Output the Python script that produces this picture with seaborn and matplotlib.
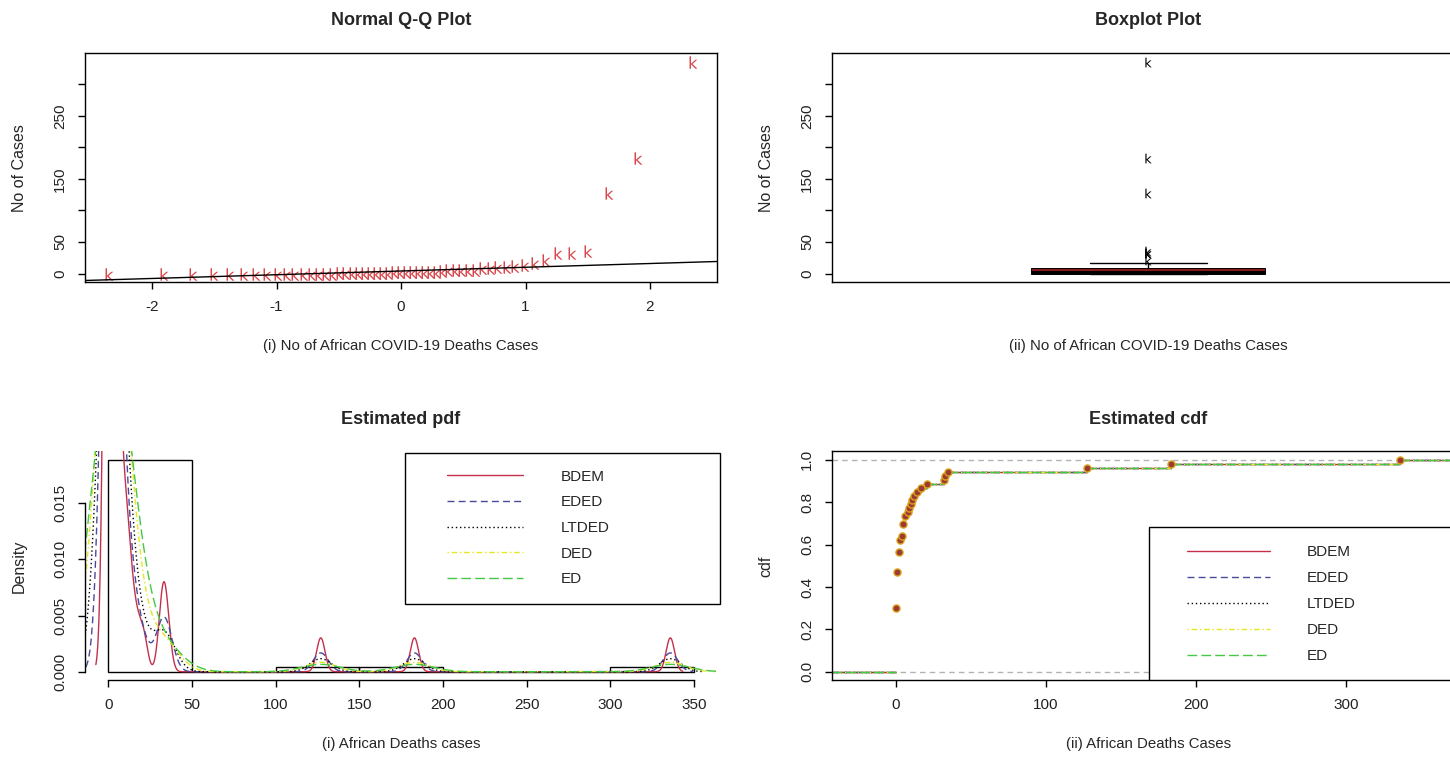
import statistics
import numpy as np
import pandas as pd
import seaborn as sns
import matplotlib.pyplot as plt
from matplotlib.patches import Rectangle
from matplotlib.lines import Line2D

death_values = [0, 1, 2, 3, 4, 5, 6, 8, 9, 10, 11, 12, 14, 17, 21, 32, 33, 35, 127, 183, 336]
death_counts = [16, 9, 5, 3, 1, 3, 2, 1, 1, 1, 1, 1, 1, 1, 1, 1, 1, 1, 1, 1, 1]

estimators = ["BDEM", "EDED", "LTDED", "DED", "ED"]
est_colors = ["#C4304A", "#4A4A9A", "black", "#E6E620", "#45C845"]
est_styles = ["-", (0, (5, 3)), (0, (1, 2)), (0, (1, 2, 4, 2)), (0, (7, 3))]
est_bandwidths = [2.5, 4.5, 6.5, 9.0, 11.5]

hist_breaks = [0, 50, 100, 150, 200, 250, 300, 350]

deaths = np.repeat(death_values, death_counts)
n = len(deaths)
y_sorted = np.sort(deaths)
nd = statistics.NormalDist()
theo = np.array([nd.inv_cdf((i - 0.5) / n) for i in range(1, n + 1)])
df = pd.DataFrame({"theo": theo, "cases": y_sorted})

sns.set_theme(style="white", rc={
    "axes.edgecolor": "black", "axes.linewidth": 1.0,
    "xtick.bottom": True, "ytick.left": True,
    "xtick.major.size": 5, "ytick.major.size": 5,
    "xtick.major.width": 1.0, "ytick.major.width": 1.0,
    "xtick.color": "black", "ytick.color": "black",
    "xtick.labelcolor": "#222222", "ytick.labelcolor": "#222222",
    "xtick.major.pad": 8, "ytick.major.pad": 8,
})
plt.rcParams["font.family"] = ["Liberation Sans", "DejaVu Sans"]

fig = plt.figure(figsize=(14.5, 7.6), dpi=100)
W = 0.436
H = 0.301
ax_qq = fig.add_axes([0.0586, 0.629, W, H])
ax_box = fig.add_axes([0.5738, 0.629, W, H])
ax_pdf = fig.add_axes([0.0586, 0.105, W, H])
ax_cdf = fig.add_axes([0.5738, 0.105, W, H])

red_k = "#D9474C"
kmark = r"$\mathrm{k}$"

# Normal Q-Q plot
sns.scatterplot(data=df, x="theo", y="cases", marker=kmark, s=80, color=red_k,
                linewidth=0, ax=ax_qq)
q1, q3 = np.percentile(deaths, [25, 75])
z1, z3 = nd.inv_cdf(0.25), nd.inv_cdf(0.75)
ax_qq.axline((z1, q1), slope=(q3 - q1) / (z3 - z1), color="black", lw=1)
ax_qq.set_xlim(-2.54, 2.54)
ax_qq.set_ylim(-13.4, 349.4)
ax_qq.set_xticks([-2, -1, 0, 1, 2])
ax_qq.set_xticklabels(["-2", "-1", "0", "1", "2"])

# Boxplot
sns.boxplot(y=deaths, ax=ax_box, width=0.37, color="#8B1A1A", saturation=1,
            linecolor="black", linewidth=0.7,
            medianprops=dict(color="black", linewidth=2.2),
            whiskerprops=dict(linestyle=(0, (4, 3)), color="black", linewidth=1),
            capprops=dict(color="black", linewidth=1),
            flierprops=dict(marker=kmark, markersize=7, markerfacecolor="black",
                            markeredgecolor="black", markeredgewidth=0))
ax_box.set_xlim(-0.5, 0.5)
ax_box.set_ylim(-13.4, 349.4)
ax_box.set_xticks([])

for ax in (ax_qq, ax_box):
    ax.set_yticks([0, 50, 100, 150, 200, 250, 300])
    ax.set_yticklabels(["0", "50", "", "150", "", "250", ""])
    ax.set_ylabel("No of Cases", fontsize=11.5)

ax_qq.set_title("Normal Q-Q Plot", fontsize=13, fontweight="bold", pad=20)
ax_box.set_title("Boxplot Plot", fontsize=13, fontweight="bold", pad=20)
ax_qq.set_xlabel("(i) No of African COVID-19 Deaths Cases", fontsize=10.8)
ax_box.set_xlabel("(ii) No of African COVID-19 Deaths Cases", fontsize=10.8)

# Estimated pdf
sns.histplot(x=deaths, bins=hist_breaks, stat="density", fill=False, element="bars",
             color="black", linewidth=1, ax=ax_pdf)
sd = np.std(deaths, ddof=1)
for name, col, ls, h in zip(estimators, est_colors, est_styles, est_bandwidths):
    sns.kdeplot(x=deaths, bw_method=h / sd, color=col, linestyle=ls, lw=1,
                gridsize=3000, cut=3, ax=ax_pdf)
ax_pdf.set_xlim(-14, 364)
ax_pdf.set_ylim(-0.000755, 0.0196)
ax_pdf.set_xticks(hist_breaks)
ax_pdf.set_yticks([0, 0.005, 0.010, 0.015])
ax_pdf.set_yticklabels(["0.000", "0.005", "0.010", "0.015"])
ax_pdf.spines["top"].set_visible(False)
ax_pdf.spines["right"].set_visible(False)
ax_pdf.spines["left"].set_bounds(0, 0.015)
ax_pdf.spines["bottom"].set_bounds(0, 350)
ax_pdf.set_ylabel("Density", fontsize=11.5)
ax_pdf.set_xlabel("(i) African Deaths cases", fontsize=10.8)
ax_pdf.set_title("Estimated pdf", fontsize=13, fontweight="bold", pad=20)

# Estimated cdf
xmin, xmax = -42.5, 378.5
knots = np.unique(deaths)
F = np.searchsorted(y_sorted, knots, side="right") / n
seg_x0 = np.concatenate([[xmin], knots])
seg_x1 = np.concatenate([knots, [xmax]])
seg_y = np.concatenate([[0.0], F])
ax_cdf.axhline(0, color="#B3B3B3", lw=1, linestyle=(0, (4, 3)))
ax_cdf.axhline(1, color="#B3B3B3", lw=1, linestyle=(0, (4, 3)))
for name, col, ls in zip(estimators, est_colors, est_styles):
    ax_cdf.hlines(seg_y, seg_x0, seg_x1, colors=col, linestyles=[ls], lw=1)
sns.scatterplot(x=knots, y=F, s=26, color="#9C3A34", edgecolor="#D9A21B",
                linewidth=1, zorder=5, ax=ax_cdf)
ax_cdf.set_xlim(xmin, xmax)
ax_cdf.set_ylim(-0.04, 1.04)
ax_cdf.set_xticks([0, 100, 200, 300])
ax_cdf.set_yticks([0, 0.2, 0.4, 0.6, 0.8, 1.0])
ax_cdf.set_yticklabels(["0.0", "0.2", "0.4", "0.6", "0.8", "1.0"])
ax_cdf.set_ylabel("cdf", fontsize=11.5)
ax_cdf.set_xlabel("(ii) African Deaths Cases", fontsize=10.8)
ax_cdf.set_title("Estimated cdf", fontsize=13, fontweight="bold", pad=20)

# legends: boxed like R's legend()
handles = [Line2D([], [], color=c, linestyle=s, lw=1) for c, s in zip(est_colors, est_styles)]
ax_pdf.add_patch(Rectangle((0.506, 0.332), 0.499, 0.659, transform=ax_pdf.transAxes,
                           fill=False, edgecolor="black", lw=1, clip_on=False, zorder=6))
ax_pdf.legend(handles, estimators, loc="upper left", bbox_to_anchor=(0.572, 0.92),
              frameon=False, fontsize=11, handlelength=5.0, handletextpad=2.5,
              labelspacing=0.76, borderpad=0, borderaxespad=0)
ax_cdf.add_patch(Rectangle((0.502, 0.0), 0.6, 0.668, transform=ax_cdf.transAxes,
                           facecolor="white", edgecolor="black", lw=1, zorder=6))
ax_cdf.legend(handles, estimators, loc="upper left", bbox_to_anchor=(0.562, 0.59),
              frameon=False, fontsize=11, handlelength=5.4, handletextpad=2.4,
              labelspacing=0.78, borderpad=0, borderaxespad=0).set_zorder(7)

for ax in (ax_qq, ax_box, ax_pdf, ax_cdf):
    plt.setp(ax.get_yticklabels(), rotation=90, va="center")
    ax.tick_params(labelsize=11)
    ax.yaxis.set_label_coords(-0.092, 0.5)
    ax.xaxis.set_label_coords(0.5, -0.25)

fig.savefig("out.png", dpi=100, facecolor="white")
